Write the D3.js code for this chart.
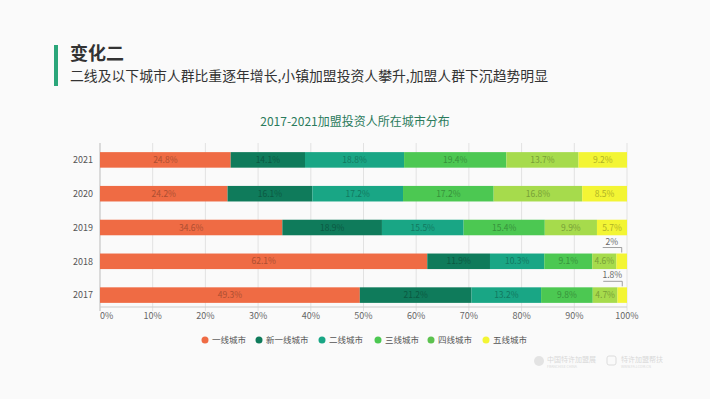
<!DOCTYPE html>
<html><head><meta charset="utf-8">
<script src="https://cdn.jsdelivr.net/npm/d3@7"></script>
<style>
html,body{margin:0;padding:0;background:#fafafa;}
svg{display:block;font-family:"Noto Sans CJK SC","Noto Sans",sans-serif;}
</style></head>
<body><svg id="c" width="710" height="399"></svg>
<script>
const years = ["2021","2020","2019","2018","2017"];
const seriesNames = ["一线城市","新一线城市","二线城市","三线城市","四线城市","五线城市"];
const s1 = [24.8,24.2,34.6,62.1,49.3];
const s2 = [14.1,16.1,18.9,11.9,21.2];
const s3 = [18.8,17.2,15.5,10.3,13.2];
const s4 = [19.4,17.2,15.4,9.1,9.8];
const s5 = [13.7,16.8,9.9,4.6,4.7];
const s6 = [9.2,8.5,5.7,2,1.8];
const seriesValues = [s1,s2,s3,s4,s5,s6];
const colors = ["#ef6b44","#0f7b5b","#19a685","#4cc852","#a6db4c","#f3f534"];
const legendColors = ["#ef6b44","#0f7b5b","#19a685","#4cc852","#5cc24f","#f3f534"];
const xTicks = [0,10,20,30,40,50,60,70,80,90,100];

const svg = d3.select("#c");
svg.append("rect").attr("width",710).attr("height",399).attr("fill","#fafafa");

// header
svg.append("rect").attr("x",54).attr("y",45).attr("width",4).attr("height",41).attr("fill","#2ba67a");
svg.append("text").attr("x",70).attr("y",59.5).attr("font-size",18).attr("font-weight","bold").attr("fill","#333").text("变化二");
svg.append("text").attr("x",70).attr("y",80.5).attr("font-size",13.5).attr("fill","#333")
  .text("二线及以下城市人群比重逐年增长,小镇加盟投资人攀升,加盟人群下沉趋势明显")
  .attr("textLength",478).attr("lengthAdjust","spacingAndGlyphs");

svg.append("text").attr("x",355).attr("y",126).attr("text-anchor","middle").attr("font-size",12)
  .attr("fill","#2a7a5c").text("2017-2021加盟投资人所在城市分布");

const x = d3.scaleLinear().domain([0,100]).range([100,627]);
const y = d3.scaleBand().domain(years).range([143,312]).paddingInner(0.54).paddingOuter(0.27);
const axisY = 307;

// gridlines
svg.append("g").selectAll("line").data(xTicks.slice(1)).join("line")
  .attr("x1",d=>x(d)).attr("x2",d=>x(d)).attr("y1",143).attr("y2",axisY+4)
  .attr("stroke","#e2e2e2").attr("stroke-width",1);
// axes lines
svg.append("line").attr("x1",x(0)).attr("x2",x(0)).attr("y1",143).attr("y2",axisY+4).attr("stroke","#bbb");
svg.append("line").attr("x1",x(0)).attr("x2",x(100)).attr("y1",axisY).attr("y2",axisY).attr("stroke","#ccc");

svg.append("g").selectAll("text").data(xTicks).join("text")
  .attr("x",d=>x(d)).attr("y",axisY+12)
  .attr("text-anchor",(d,i)=>i===0?"start":"middle")
  .attr("font-size",9).attr("fill","#666").text(d=>d+"%");

svg.append("g").selectAll("text").data(years).join("text")
  .attr("x",93).attr("y",d=>y(d)+y.bandwidth()/2+3.2).attr("text-anchor","end")
  .attr("font-size",9).attr("fill","#555").text(d=>d);

// stacked bars
const rows = years.map((yr,i)=>{
  let acc=0;
  return seriesValues.map((vals,k)=>{
    const seg={year:yr,k:k,v:vals[i],x0:acc,x1:acc+vals[i]}; acc+=vals[i]; return seg;
  });
}).flat();

const g = svg.append("g");
g.selectAll("rect").data(rows).join("rect")
  .attr("x",d=>x(d.x0)).attr("width",d=>x(d.x1)-x(d.x0))
  .attr("y",d=>y(d.year)).attr("height",y.bandwidth())
  .attr("fill",d=>colors[d.k]);

const inside = rows.filter(d=>d.v>=3);
g.selectAll("text.in").data(inside).join("text").attr("class","in")
  .attr("x",d=>x((d.x0+d.x1)/2)).attr("y",d=>y(d.year)+y.bandwidth()/2+3)
  .attr("text-anchor","middle").attr("font-size",8.5)
  .attr("fill",d=>d3.color(colors[d.k]).darker(0.9).formatHex())
  .text(d=>d.v+"%");

const outside = rows.filter(d=>d.v<3);
outside.forEach(d=>{
  const cx = x((d.x0+d.x1)/2);
  const top = y(d.year);
  const ly = top-6;
  svg.append("path").attr("d",`M${cx-19},${ly} H${cx} V${top-1}`)
    .attr("fill","none").attr("stroke","#888").attr("stroke-width",0.8);
  svg.append("text").attr("x",cx-10).attr("y",ly-3).attr("text-anchor","middle")
    .attr("font-size",8.5).attr("fill","#666").text(d.v+"%");
});

// legend
const legendX = [205,259,322,378,431,486];
const lg = svg.append("g");
seriesNames.forEach((n,i)=>{
  lg.append("circle").attr("cx",legendX[i]).attr("cy",340).attr("r",3.5).attr("fill",legendColors[i]);
  lg.append("text").attr("x",legendX[i]+7).attr("y",343.2).attr("font-size",8.5).attr("fill","#555").text(n);
});

// watermarks
const wm = svg.append("g").attr("opacity",0.35);
wm.append("circle").attr("cx",539).attr("cy",361).attr("r",5).attr("fill","#bbb");
wm.append("text").attr("x",547).attr("y",362).attr("font-size",7).attr("fill","#999").text("中国特许加盟展");
wm.append("text").attr("x",547).attr("y",367.5).attr("font-size",3.5).attr("fill","#999").text("FRANCHISE CHINA");
wm.append("rect").attr("x",607).attr("y",356).attr("width",9).attr("height",9).attr("rx",2).attr("fill","none").attr("stroke","#aaa");
wm.append("text").attr("x",621).attr("y",362).attr("font-size",7).attr("fill","#999").text("特许加盟帮扶");
wm.append("text").attr("x",621).attr("y",367.5).attr("font-size",3.5).attr("fill","#999").text("WWW.FAJ.COM.CN");
</script></body></html>
